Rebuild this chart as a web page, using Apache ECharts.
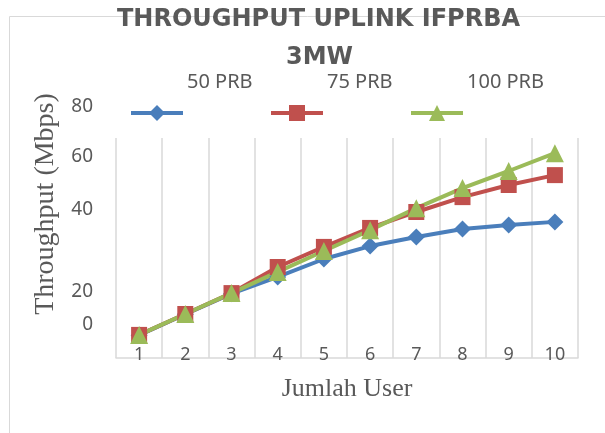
<!DOCTYPE html>
<html>
<head>
    <meta charset="utf-8">
    <script src="https://cdn.jsdelivr.net/npm/echarts@6.0.0/dist/echarts.min.js"></script>
</head>
<body style="margin:0">
    <div id="main" style="width: 605px;height:433px;"></div>
    <script type="text/javascript">

var users = ['1', '2', '3', '4', '5', '6', '7', '8', '9', '10'];
var seriesNames = ['50 PRB', '75 PRB', '100 PRB'];
var prb50 = [8.3, 15.9, 23.4, 29.5, 36.0, 40.7, 44.0, 46.9, 48.4, 49.5];
var prb75 = [8.4, 16.0, 23.6, 33.1, 40.4, 47.3, 53.1, 58.5, 62.9, 66.5];
var prb100 = [8.4, 16.0, 23.6, 31.3, 38.9, 46.5, 54.5, 61.8, 68.0, 74.5];
var yTickLabels = ['0', '20', '40', '60', '80'];

// the y labels sit where the original picture put them, not on the scale
var yLabelTop = [325, 292, 210, 157, 107];
var gray = '#595959';

var graphics = [{
    type: 'rect',
    z: -10,
    shape: {x: 9.5, y: 16.5, width: 700, height: 500},
    style: {fill: 'none', stroke: '#d9d9d9', lineWidth: 1}
}];
for (var i = 0; i < yTickLabels.length; i++) {
    graphics.push({
        type: 'text',
        x: 93,
        y: yLabelTop[i],
        style: {
            text: yTickLabels[i],
            align: 'right',
            verticalAlign: 'middle',
            fill: gray,
            font: '19px "Noto Sans"'
        }
    });
}

// legend: names on one row, line+marker icons on the row below
var legends = [];
for (var k = 0; k < seriesNames.length; k++) {
    legends.push({
        data: [seriesNames[k]],
        left: 182 + k * 140,
        top: 72,
        padding: 0,
        icon: 'none',
        itemWidth: 0,
        itemGap: 0,
        textStyle: {
            padding: 0,
            color: gray,
            fontFamily: 'Noto Sans',
            fontSize: 20
        }
    });
    legends.push({
        data: [seriesNames[k]],
        left: 129 + k * 140,
        top: 103,
        padding: 0,
        itemWidth: 52,
        itemHeight: 20,
        lineStyle: {width: 4},
        formatter: function () { return ''; },
        textStyle: {padding: 0}
    });
}

var titleStyle = {
    fontFamily: 'DejaVu Sans',
    fontWeight: 'bold',
    fontSize: 24,
    color: gray
};

var option = {
    animation: false,
    title: [{
        text: 'THROUGHPUT UPLINK IFPRBA',
        left: 117,
        top: 8,
        padding: 0,
        textStyle: titleStyle
    }, {
        text: '3MW',
        left: 286,
        top: 46,
        padding: 0,
        textStyle: titleStyle
    }],
    legend: legends,
    grid: {
        left: 116,
        right: 27,
        top: 138,
        bottom: 75
    },
    xAxis: {
        type: 'category',
        data: users,
        name: 'Jumlah User',
        nameLocation: 'middle',
        nameGap: 18,
        nameTextStyle: {
            fontFamily: 'Liberation Serif',
            fontSize: 26,
            color: gray
        },
        axisLine: {lineStyle: {color: '#d9d9d9', width: 1.5}},
        axisTick: {show: false},
        splitLine: {show: true, lineStyle: {color: '#d9d9d9', width: 1.5}},
        axisLabel: {
            margin: -12,
            color: gray,
            fontFamily: 'Noto Sans',
            fontSize: 18
        }
    },
    yAxis: {
        type: 'value',
        min: 0,
        max: 80,
        name: 'Throughput (Mbps)',
        nameLocation: 'middle',
        nameGap: 56,
        nameTextStyle: {
            fontFamily: 'Liberation Serif',
            fontSize: 28,
            color: gray,
            padding: [0, 0, 0, 88]
        },
        axisLine: {show: false},
        axisTick: {show: false},
        axisLabel: {show: false},
        splitLine: {show: false}
    },
    series: [{
        name: seriesNames[0],
        type: 'line',
        data: prb50,
        symbol: 'diamond',
        symbolSize: 17,
        lineStyle: {width: 4, color: '#4a7ebb'},
        itemStyle: {color: '#4a7ebb'}
    }, {
        name: seriesNames[1],
        type: 'line',
        data: prb75,
        symbol: 'rect',
        symbolSize: 16,
        lineStyle: {width: 4, color: '#c0504d'},
        itemStyle: {color: '#c0504d'}
    }, {
        name: seriesNames[2],
        type: 'line',
        data: prb100,
        symbol: 'triangle',
        symbolSize: 18,
        lineStyle: {width: 4, color: '#9bbb59'},
        itemStyle: {color: '#9bbb59'}
    }],
    graphic: graphics
};

var myChart = echarts.init(document.getElementById('main'));
myChart.setOption(option);

    </script>
</body>
</html>
